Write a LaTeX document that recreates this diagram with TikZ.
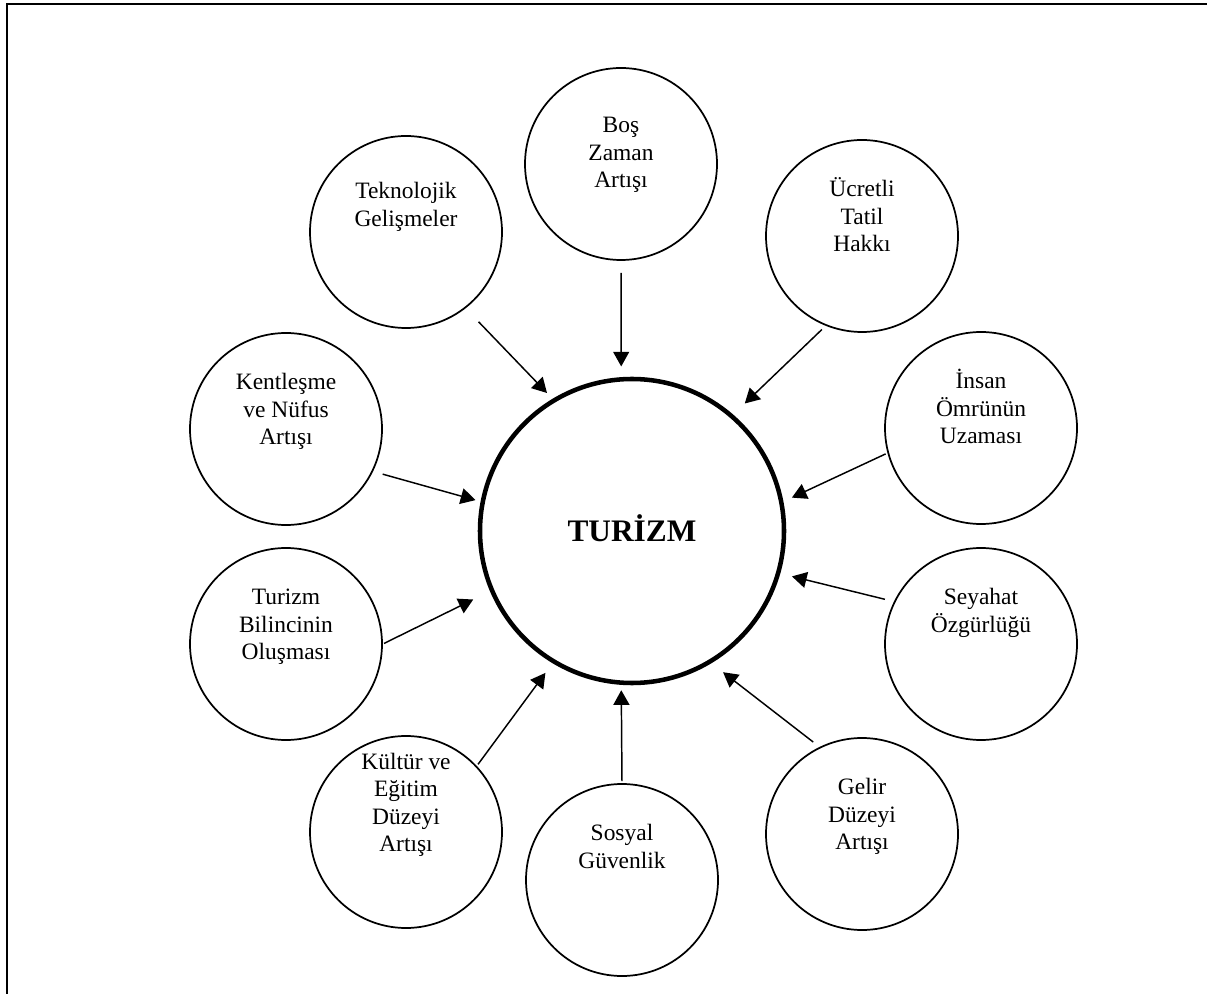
\documentclass[tikz,border=0pt]{standalone}
\usepackage{fontspec}
\setmainfont{Liberation Serif}
\usetikzlibrary{arrows.meta}
\newcommand{\circstrut}{\rule{0pt}{17pt}}

\begin{document}
\begin{tikzpicture}[x=0.75pt, y=-0.75pt,
	factor_node/.style={circle, draw, line width=1.3pt, minimum size=144pt, inner sep=0pt},
	factor_text/.style={anchor=north, align=center, inner sep=0pt, yshift=-26pt, font=\fontsize{17.6}{20.6}\selectfont},
	center_node/.style={circle, draw, line width=3.4pt, minimum size=228pt, inner sep=0pt, text depth=0.43em, font=\fontsize{23.5}{27}\selectfont\bfseries},
	arrow_line/.style={line width=1.1pt, -{Triangle[length=11pt, width=12pt]}}]
	
	\useasboundingbox (0,0) rectangle (1207,994);
	\draw[line width=1.5pt] (7,994) -- (7,4) -- (1207,4);
	
	\node[center_node] (tur) at (632,531) {TURİZM};
	
	\node[factor_node, label={[factor_text, yshift=-6pt]90:{\circstrut Boş\\Zaman\\Artışı}}] (bos) at (621,164) {};
	\node[factor_node, label={[factor_text, yshift=-4.5pt]90:{\circstrut Teknolojik\\Gelişmeler}}] (tek) at (406,232) {};
	\node[factor_node, label={[factor_text]90:{\circstrut Ücretli\\Tatil\\Hakkı}}] (ucr) at (862,236) {};
	\node[factor_node, label={[factor_text]90:{\circstrut Kentleşme\\ve Nüfus\\Artışı}}] (kent) at (286,429) {};
	\node[factor_node, label={[factor_text]90:{\circstrut İnsan\\Ömrünün\\Uzaması}}] (insan) at (981,428) {};
	\node[factor_node, label={[factor_text]90:{\circstrut Seyahat\\Özgürlüğü}}] (sey) at (981,644) {};
	\node[factor_node, label={[factor_text]90:{\circstrut Turizm\\Bilincinin\\Oluşması}}] (bil) at (286,644) {};
	\node[factor_node, label={[factor_text, yshift=17.5pt]90:{\circstrut Kültür ve\\Eğitim\\Düzeyi\\Artışı}}] (kul) at (406,832) {};
	\node[factor_node, label={[factor_text]90:{\circstrut Sosyal\\Güvenlik}}] (sos) at (622,880) {};
	\node[factor_node, label={[factor_text]90:{\circstrut Gelir\\Düzeyi\\Artışı}}] (gel) at (862,834) {};
	
	% etkenlerden turizme oklar
	\draw[arrow_line, shorten <=9pt, shorten >=8pt] (bos.-90) -- (tur.94);
	\draw[arrow_line, shorten <=14pt, shorten >=6pt] (tek.-52) -- (tur.121);
	\draw[arrow_line, shorten <=4pt, shorten >=12pt] (ucr.-112) -- (tur.49);
	\draw[arrow_line, shorten <=7.5pt, shorten >=4pt] (kent.-26) -- (tur.169);
	\draw[arrow_line, shorten <=1.5pt, shorten >=7pt] (insan.195) -- (tur.11);
	\draw[arrow_line, shorten <=7pt, shorten >=9pt] (sey.154) -- (tur.-16);
	\draw[arrow_line, shorten <=1pt, shorten >=14pt] (bil.0) -- (tur.203);
	\draw[arrow_line, shorten <=1.5pt, shorten >=9pt] (kul.43) -- (tur.239);
	\draw[arrow_line, shorten <=1.5pt, shorten >=4pt] (sos.90) -- (tur.266);
	\draw[arrow_line, shorten <=6pt, shorten >=11pt] (gel.116) -- (tur.-59);
\end{tikzpicture}
\end{document}
